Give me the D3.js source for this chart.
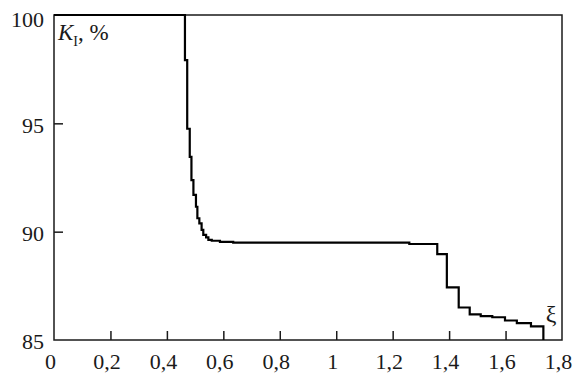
<!DOCTYPE html>
<html><head><meta charset="utf-8">
<script src="https://cdn.jsdelivr.net/npm/d3@7"></script>
<style>
body{margin:0;background:#fff}
svg text, svg tspan { font-family: "Liberation Serif", serif !important; }
</style>
</head><body><svg id="c" width="578" height="376"></svg>
<script>
const xValues = [0, 0.464, 0.472, 0.481, 0.487, 0.494, 0.503, 0.508, 0.515, 0.523, 0.529, 0.539, 0.547, 0.559, 0.588, 0.635, 1.259, 1.358, 1.392, 1.434, 1.473, 1.512, 1.553, 1.598, 1.64, 1.69, 1.734];
const yValues = [100, 97.92, 94.75, 93.45, 92.38, 91.7, 91.15, 90.62, 90.38, 90.08, 89.85, 89.74, 89.62, 89.58, 89.53, 89.49, 89.43, 88.96, 87.43, 86.5, 86.18, 86.1, 86.05, 85.9, 85.78, 85.63, 85];
const xTicks = [0, 0.2, 0.4, 0.6, 0.8, 1, 1.2, 1.4, 1.6, 1.8];
const yTicks = [85, 90, 95, 100];

const L = 54, R = 562, T = 15, B = 340;
const svg = d3.select("#c").attr("font-family", "serif");
const x = d3.scaleLinear().domain([0, 1.8]).range([L, R]);
const y = d3.scaleLinear().domain([85, 100]).range([B, T]);
const fmt = d => String(d).replace(".", ",");

const xa = svg.append("g").attr("transform", `translate(0,${B})`)
  .call(d3.axisBottom(x).tickValues(xTicks).tickSize(-9).tickPadding(12).tickFormat(fmt));
xa.attr("font-family", "serif").attr("font-size", 22);
xa.select(".domain").remove();
xa.selectAll("line").attr("stroke", "#1a1a1a").attr("stroke-width", 1.5)
  .filter(d => d === 0 || d === 1.8).remove();
xa.selectAll("text").attr("fill", "#1a1a1a").attr("dx", -4).attr("y", 13).attr("dy", "0.71em");

const ya = svg.append("g").attr("transform", `translate(${L},0)`)
  .call(d3.axisLeft(y).tickValues(yTicks).tickSize(-9).tickPadding(10).tickFormat(fmt));
ya.attr("font-family", "serif").attr("font-size", 22);
ya.select(".domain").remove();
ya.selectAll("line").attr("stroke", "#1a1a1a").attr("stroke-width", 1.5)
  .filter(d => d === 85 || d === 100).remove();
ya.selectAll("text").attr("fill", "#1a1a1a").attr("x", -10).attr("dy", "0.4em");
ya.selectAll("text").filter(d => d === 100).attr("dy", "0.5em");

svg.append("rect").attr("x", L).attr("y", T).attr("width", R - L).attr("height", B - T)
  .attr("fill", "none").attr("stroke", "#1a1a1a").attr("stroke-width", 1.5);

const pts = xValues.map((v, i) => [v, yValues[i]]);
svg.append("path").datum(pts)
  .attr("fill", "none").attr("stroke", "#000").attr("stroke-width", 2.2)
  .attr("d", d3.line().x(d => x(d[0])).y(d => y(d[1])).curve(d3.curveStepAfter));

const k = svg.append("text").attr("x", 58).attr("y", 40).attr("font-size", 23)
  .attr("font-family", "serif").attr("fill", "#1a1a1a");
k.append("tspan").text("K").attr("font-style", "italic");
k.append("tspan").text("I").attr("font-size", 14).attr("dy", 6);
k.append("tspan").text(", %").attr("dy", -6);

svg.append("text").attr("x", 551).attr("y", 322).attr("text-anchor", "middle")
  .attr("font-family", "serif").attr("font-size", 24).attr("fill", "#1a1a1a").text("ξ");
</script></body></html>
